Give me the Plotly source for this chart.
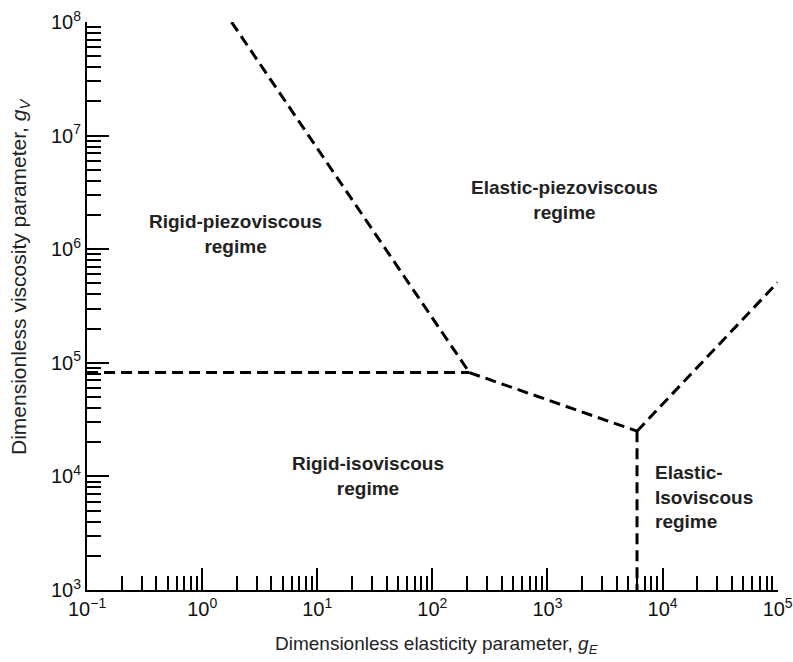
import math
import plotly.graph_objects as go

# Regime boundary lines (x = g_E, y = g_V)
upper_x = [1.8, 210]
upper_y = [1e8, 8.2e4]
horiz_x = [0.1, 210]
horiz_y = [8.2e4, 8.2e4]
mid_x = [210, 6000]
mid_y = [8.2e4, 2.5e4]
vert_x = [6000, 6000]
vert_y = [2.5e4, 1e3]
right_x = [6000, 1e5]
right_y = [2.5e4, 5.1e5]

x_tick_exps = [-1, 0, 1, 2, 3, 4, 5]
y_tick_exps = [3, 4, 5, 6, 7, 8]

labels = [
    ("Rigid-piezoviscous<br>regime", 1.93, 1.36e6, "center"),
    ("Elastic-piezoviscous<br>regime", 1413, 2.71e6, "center"),
    ("Rigid-isoviscous<br>regime", 27.5, 1.01e4, "center"),
    ("Elastic-<br>Isoviscous<br>regime", 8222, 6.6e3, "left"),
]

x_title = "Dimensionless elasticity parameter, <i>g<sub>E</sub></i>"
y_title = "Dimensionless viscosity parameter, <i>g<sub>V</sub></i>"


def sup(e):
    return "10<sup>" + ("\u2212" if e < 0 else "") + str(abs(e)) + "</sup>"


def minor_vals(e0, e1):
    out = []
    for e in range(e0, e1):
        for k in range(2, 10):
            out.append(k * 10 ** e)
    return out


fig = go.Figure()
line_style = dict(color="black", width=3, dash="11px,6px")
for xs, ys in [(upper_x, upper_y), (horiz_x, horiz_y), (mid_x, mid_y),
               (vert_x, vert_y), (right_x, right_y)]:
    fig.add_trace(go.Scatter(x=xs, y=ys, mode="lines", line=line_style,
                             showlegend=False, hoverinfo="skip"))

for text, x, y, al in labels:
    fig.add_annotation(x=math.log10(x), y=math.log10(y),
                       text="<b>" + text + "</b>", showarrow=False,
                       xanchor="left" if al == "left" else "center",
                       align=al,
                       font=dict(family="Liberation Sans", size=19, color="#222"))

# axis titles
fig.add_annotation(xref="paper", yref="paper", x=0.5065, y=-0.097,
                   text=x_title, showarrow=False, xanchor="center", yanchor="middle",
                   font=dict(family="Liberation Sans", size=19, color="#222"))
fig.add_annotation(xref="paper", yref="paper", x=-0.097, y=0.551,
                   text=y_title, showarrow=False, textangle=-90,
                   xanchor="center", yanchor="middle",
                   font=dict(family="Liberation Sans", size=21, color="#222"))

axis_common = dict(
    type="log", showgrid=False, zeroline=False, showline=True, automargin=False,
    linecolor="black", linewidth=2, ticks="inside", ticklen=22,
    tickwidth=2, tickcolor="black", tickmode="array",
    tickfont=dict(family="Liberation Sans", size=20, color="#111"),
)

fig.update_xaxes(
    **axis_common, range=[-1.0005, 5.003],
    tickvals=[10 ** e for e in x_tick_exps],
    ticktext=[sup(e) for e in x_tick_exps],
    minor=dict(tickmode="array", tickvals=minor_vals(-1, 5), ticks="inside",
               ticklen=14, tickwidth=1.5, tickcolor="black", showgrid=False),
)
fig.update_yaxes(
    **axis_common, range=[2.9995, 8.0005],
    tickvals=[10 ** e for e in y_tick_exps],
    ticktext=[sup(e) for e in y_tick_exps],
    minor=dict(tickmode="array", tickvals=minor_vals(3, 8), ticks="inside",
               ticklen=14, tickwidth=1.5, tickcolor="black", showgrid=False),
)

fig.update_layout(
    width=793, height=662,
    margin=dict(l=87, r=15, t=22, b=72),
    plot_bgcolor="white", paper_bgcolor="white",
    showlegend=False,
)

fig.write_html("out.html",
               config={"displayModeBar": False},
               post_script="document.body.style.margin='0';"
                           "document.body.style.overflow='hidden';")
